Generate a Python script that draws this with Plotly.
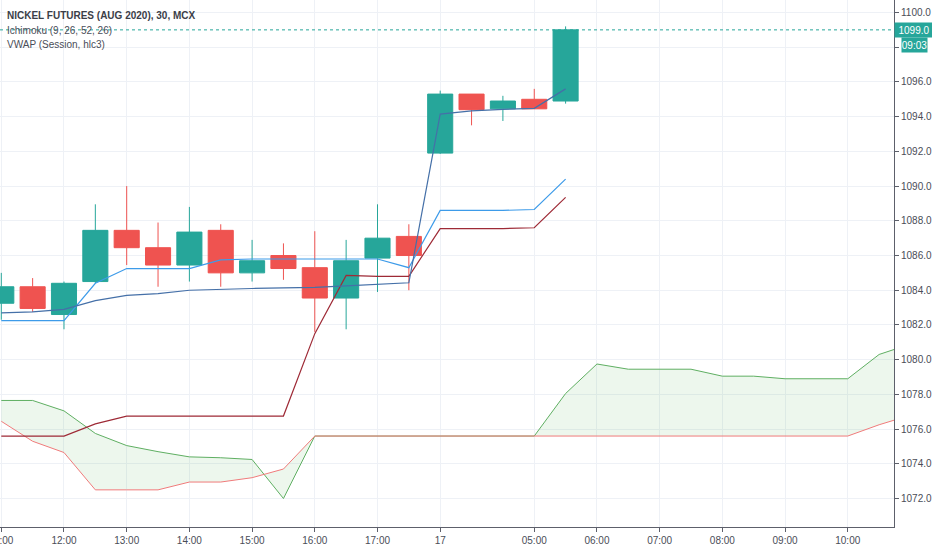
import plotly.graph_objects as go

# 30 min bars, index based x axis (TradingView style, no gaps)
bar_idx = list(range(19))
open_ = [1083.25, 1084.2, 1082.6, 1084.5, 1087.45, 1086.45, 1085.45, 1087.45, 1085.0, 1086.0,
         1085.3, 1083.55, 1085.85, 1087.1, 1091.9, 1095.3, 1094.45, 1095.0, 1094.9]
high = [1085.0, 1084.7, 1084.5, 1088.95, 1090.0, 1087.9, 1088.8, 1087.8, 1086.9, 1086.7,
        1087.4, 1086.9, 1088.95, 1087.8, 1095.5, 1095.3, 1095.2, 1095.6, 1099.2]
low = [1082.3, 1082.75, 1081.75, 1084.4, 1085.45, 1084.2, 1084.5, 1084.2, 1084.5, 1084.6,
       1081.6, 1081.75, 1083.9, 1084.0, 1091.85, 1093.5, 1093.75, 1094.45, 1094.75]
close = [1084.2, 1082.95, 1084.4, 1087.45, 1086.45, 1085.45, 1087.35, 1085.0, 1085.7, 1085.25,
         1083.55, 1085.7, 1087.0, 1086.0, 1095.3, 1094.4, 1094.9, 1094.45, 1099.0]

tenkan = [1082.25, 1082.25, 1082.25, 1084.4, 1085.25, 1085.25, 1085.25, 1085.75, 1085.8, 1085.8,
          1085.8, 1085.8, 1085.8, 1085.3, 1088.6, 1088.6, 1088.6, 1088.65, 1090.4]
kijun = [1075.6, 1075.6, 1075.6, 1076.3, 1076.75, 1076.75, 1076.75, 1076.75, 1076.75, 1076.75,
         1081.5, 1084.85, 1084.8, 1084.8, 1087.55, 1087.55, 1087.55, 1087.6, 1089.35]
vwap = [1082.7, 1082.75, 1082.9, 1083.4, 1083.7, 1083.8, 1084.0, 1084.07, 1084.1, 1084.14,
        1084.17, 1084.25, 1084.35, 1084.43, 1094.15, 1094.33, 1094.42, 1094.48, 1095.6]

# leading spans (already shifted 26 bars forward)
cloud_idx = list(range(30))
span_a = [1077.65, 1077.65, 1077.05, 1075.75, 1075.05, 1074.7, 1074.4, 1074.35, 1074.25, 1072.0,
          1075.6, 1075.6, 1075.6, 1075.6, 1075.6, 1075.6, 1075.6, 1075.6, 1078.05, 1079.75,
          1079.45, 1079.45, 1079.45, 1079.05, 1079.05, 1078.9, 1078.9, 1078.9, 1080.3, 1080.9]
span_b = [1076.45, 1075.3, 1074.65, 1072.5, 1072.5, 1072.5, 1072.95, 1072.95, 1073.2, 1073.7,
          1075.6, 1075.6, 1075.6, 1075.6, 1075.6, 1075.6, 1075.6, 1075.6, 1075.6, 1075.6,
          1075.6, 1075.6, 1075.6, 1075.6, 1075.6, 1075.6, 1075.6, 1075.6, 1076.25, 1076.8]

tick_pos = [0, 2, 4, 6, 8, 10, 12, 14, 17, 19, 21, 23, 25, 27]
tick_txt = ["11:00", "12:00", "13:00", "14:00", "15:00", "16:00", "17:00", "17",
            "05:00", "06:00", "07:00", "08:00", "09:00", "10:00"]
# 1098.0 sits under the countdown box in the original, so its label is blank
price_ticks = [1072, 1074, 1076, 1078, 1080, 1082, 1084, 1086, 1088, 1090, 1092, 1094, 1096, 1098, 1100]
price_txt = ["1072.0", "1074.0", "1076.0", "1078.0", "1080.0", "1082.0", "1084.0", "1086.0",
             "1088.0", "1090.0", "1092.0", "1094.0", "1096.0", "", "1100.0"]

TEAL = "#26a69a"
RED = "#ef5350"
GRID = "#eef1f6"
AXIS = "#5d606b"
TXT = "#4a4d57"
FONT = "Liberation Sans, Arial, sans-serif"


def cloud_pieces(xs, a, b):
    # split the cloud where the spans cross so each piece gets one colour
    pieces = []
    px, pa, pb = [xs[0]], [a[0]], [b[0]]
    for k in range(1, len(xs)):
        d0 = a[k - 1] - b[k - 1]
        d1 = a[k] - b[k]
        if d0 * d1 < 0:
            t = d0 / (d0 - d1)
            xc = xs[k - 1] + t * (xs[k] - xs[k - 1])
            yc = a[k - 1] + t * (a[k] - a[k - 1])
            px.append(xc); pa.append(yc); pb.append(yc)
            pieces.append((px, pa, pb))
            px, pa, pb = [xc], [yc], [yc]
        px.append(xs[k]); pa.append(a[k]); pb.append(b[k])
    pieces.append((px, pa, pb))
    return pieces


fig = go.Figure()

for px, pa, pb in cloud_pieces(cloud_idx, span_a, span_b):
    up = sum(u - v for u, v in zip(pa, pb)) >= 0
    fig.add_trace(go.Scatter(
        x=px + px[::-1], y=pa + pb[::-1], fill="toself", mode="none",
        fillcolor="rgba(76,175,80,0.10)" if up else "rgba(244,67,54,0.10)",
        hoverinfo="skip", showlegend=False))

fig.add_trace(go.Scatter(x=cloud_idx, y=span_a, mode="lines",
                         line=dict(color="#5faf62", width=1), showlegend=False))
fig.add_trace(go.Scatter(x=cloud_idx, y=span_b, mode="lines",
                         line=dict(color="#f07b7b", width=1), showlegend=False))
fig.add_trace(go.Scatter(x=bar_idx, y=tenkan, mode="lines",
                         line=dict(color="#3d9be9", width=1.2), showlegend=False))
fig.add_trace(go.Scatter(x=bar_idx, y=kijun, mode="lines",
                         line=dict(color="#9e2a36", width=1.2), showlegend=False))
fig.add_trace(go.Scatter(x=bar_idx, y=vwap, mode="lines",
                         line=dict(color="#4570a8", width=1.2), showlegend=False))

fig.add_trace(go.Candlestick(
    x=bar_idx, open=open_, high=high, low=low, close=close,
    increasing=dict(line=dict(color=TEAL, width=1), fillcolor=TEAL),
    decreasing=dict(line=dict(color=RED, width=1), fillcolor=RED),
    whiskerwidth=0, showlegend=False))

# last price line
fig.add_shape(type="line", xref="paper", x0=0, x1=1, yref="y", y0=close[-1], y1=close[-1],
              line=dict(color=TEAL, width=1, dash="dot"))

fig.add_annotation(xref="paper", x=1, xanchor="left", yref="y", y=close[-1],
                   text=f"{close[-1]:.1f}", showarrow=False, bgcolor=TEAL,
                   font=dict(color="white", size=10, family=FONT),
                   width=38, height=14, borderpad=0)
fig.add_annotation(xref="paper", x=1, xanchor="left", xshift=7, yref="y", y=close[-1],
                   yshift=-15, text="09:03", showarrow=False, bgcolor=TEAL,
                   font=dict(color="white", size=10, family=FONT),
                   width=25, height=14, borderpad=0)

# legend lines top-left
fig.add_annotation(xref="paper", x=0, xanchor="left", xshift=5, yref="paper", y=1,
                   yanchor="middle", yshift=-15, showarrow=False,
                   text="<b>NICKEL FUTURES (AUG 2020), 30, MCX</b>",
                   font=dict(color="#3b3e48", size=10, family=FONT))
fig.add_annotation(xref="paper", x=0, xanchor="left", xshift=5, yref="paper", y=1,
                   yanchor="middle", yshift=-30, showarrow=False,
                   text="Ichimoku (9, 26, 52, 26)",
                   font=dict(color=TXT, size=10, family=FONT))
fig.add_annotation(xref="paper", x=0, xanchor="left", xshift=5, yref="paper", y=1,
                   yanchor="middle", yshift=-44, showarrow=False,
                   text="VWAP (Session, hlc3)",
                   font=dict(color=TXT, size=10, family=FONT))

fig.update_layout(
    width=932, height=550,
    margin=dict(l=0, r=38, t=0, b=23),
    paper_bgcolor="white", plot_bgcolor="white",
    font=dict(family=FONT, size=10, color=TXT),
    showlegend=False,
    boxgap=0.2, boxgroupgap=0,
    xaxis=dict(range=[-0.041, 28.475], tickvals=tick_pos, ticktext=tick_txt,
               showgrid=True, gridcolor=GRID, zeroline=False, automargin=False,
               showline=True, linecolor=AXIS, linewidth=1,
               ticks="outside", ticklen=4, tickcolor=AXIS,
               ticklabeloverflow="allow", rangeslider=dict(visible=False),
               tickfont=dict(size=10, color=TXT)),
    yaxis=dict(range=[1070.36, 1100.72], side="right", tickvals=price_ticks,
               ticktext=price_txt, showgrid=True, gridcolor=GRID, zeroline=False,
               automargin=False, showline=True, linecolor=AXIS, linewidth=1,
               ticks="outside", ticklen=4, tickcolor=AXIS,
               tickfont=dict(size=10, color=TXT)),
)

# page has a default 8px body margin; drop it so the chart fills the window
fig.write_html("out.html", config={"displayModeBar": False},
               post_script="document.body.style.margin='0';")
